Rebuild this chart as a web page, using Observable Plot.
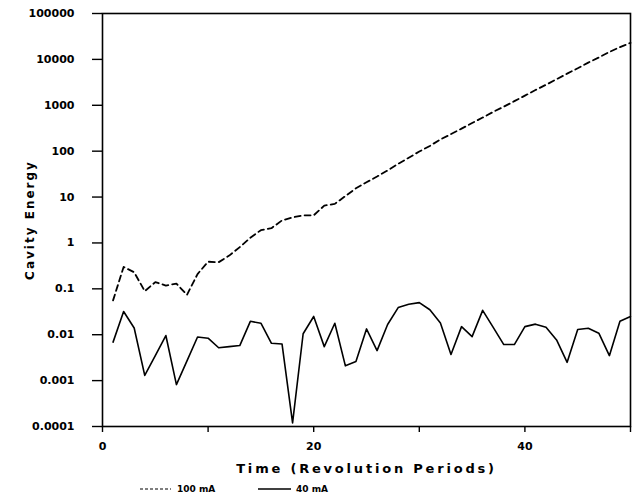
<!DOCTYPE html>
<html>
<head>
<meta charset="utf-8">
<script src="https://cdn.jsdelivr.net/npm/d3@7"></script>
<script src="https://cdn.jsdelivr.net/npm/@observablehq/plot@0.6"></script>
<style>
  body { margin: 0; background: #fff; font-family: "DejaVu Sans", sans-serif; }
  #chart svg text { font-weight: bold; }
  #chart g[aria-label="x-axis label"] text { letter-spacing: 2.8px; font-size: 13px; }
  #chart g[aria-label="y-axis label"] text { letter-spacing: 2px; font-size: 12px; }
  #legend { position: relative; height: 20px; width: 637px; font-weight: bold; font-size: 9px; }
  #legend .sw { position: absolute; top: 6px; }
  #legend .lb { position: absolute; top: 4px; }
</style>
</head>
<body>
<div id="chart"></div>
<div id="legend"></div>
<script>
const periods = [1,2,3,4,5,6,7,8,9,10,11,12,13,14,15,16,17,18,19,20,21,22,23,24,25,26,27,28,29,30,31,32,33,34,35,36,37,38,39,40,41,42,43,44,45,46,47,48,49,50];
const energy100mA = [0.056,0.30,0.23,0.089,0.14,0.118,0.13,0.074,0.21,0.39,0.38,0.53,0.81,1.3,1.9,2.1,3.1,3.6,4.0,4.0,6.5,7.1,10.5,15.5,21,28,38,53,72,98,130,180,235,310,410,540,720,930,1230,1620,2150,2800,3700,4900,6400,8500,11000,14500,18500,23000];
const energy40mA = [0.0069,0.032,0.014,0.0013,0.0035,0.0096,0.00082,0.0027,0.0089,0.0084,0.0052,0.0055,0.0058,0.0196,0.0178,0.0065,0.0063,0.00012,0.0105,0.025,0.0055,0.0178,0.0021,0.0026,0.0134,0.0045,0.0167,0.039,0.046,0.050,0.035,0.018,0.0037,0.015,0.0091,0.034,0.0145,0.0061,0.0061,0.015,0.017,0.0145,0.0077,0.0025,0.013,0.0138,0.0108,0.0035,0.0196,0.025];
const yTicks = [0.0001,0.001,0.01,0.1,1,10,100,1000,10000,100000];
const yTickLabels = ["0.0001","0.001","0.01","0.1","1","10","100","1000","10000","100000"];
const xTicks = [0,10,20,30,40,50];
const xTickLabels = ["0","","20","","40",""];
const seriesNames = ["100 mA","40 mA"];

const rows100 = periods.map((t,i) => ({t, e: energy100mA[i]}));
const rows40 = periods.map((t,i) => ({t, e: energy40mA[i]}));

const chart = Plot.plot({
  width: 637,
  height: 480,
  marginLeft: 102,
  marginRight: 7,
  marginTop: 13,
  marginBottom: 54,
  style: { fontFamily: "DejaVu Sans, sans-serif", fontSize: "11px", color: "#000", background: "#fff" },
  x: { domain: [0, 50] },
  y: { type: "log", domain: [0.0001, 100000] },
  marks: [
    Plot.frame({ stroke: "#000", strokeWidth: 1.6 }),
    Plot.axisY({ ticks: yTicks, tickSize: 10, tickPadding: 18, tickFormat: (d) => yTickLabels[yTicks.findIndex(v => Math.abs(Math.log10(v) - Math.log10(d)) < 1e-6)], label: "Cavity Energy", labelArrow: "none", labelAnchor: "center", labelOffset: 77, strokeWidth: 1.4 }),
    Plot.axisX({ ticks: xTicks, tickSize: 6, tickPadding: 10, tickFormat: (d) => xTickLabels[xTicks.indexOf(d)], label: "Time (Revolution Periods)", labelArrow: "none", labelAnchor: "center", labelOffset: 46, strokeWidth: 1.4 }),
    Plot.lineY(rows100, { x: "t", y: "e", stroke: "#000", strokeWidth: 1.8, strokeDasharray: "6,4" }),
    Plot.lineY(rows40, { x: "t", y: "e", stroke: "#000", strokeWidth: 1.6 })
  ]
});
document.getElementById("chart").appendChild(chart);

const legend = document.getElementById("legend");
legend.innerHTML = `
  <svg class="sw" style="left:140px" width="32" height="6"><line x1="0" y1="3" x2="31" y2="3" stroke="#000" stroke-width="1.2" stroke-dasharray="3,2"/></svg>
  <span class="lb" style="left:177px">${seriesNames[0]}</span>
  <svg class="sw" style="left:258px" width="34" height="6"><line x1="0" y1="3" x2="33" y2="3" stroke="#000" stroke-width="1.6"/></svg>
  <span class="lb" style="left:296px">${seriesNames[1]}</span>
`;
</script>
</body>
</html>
